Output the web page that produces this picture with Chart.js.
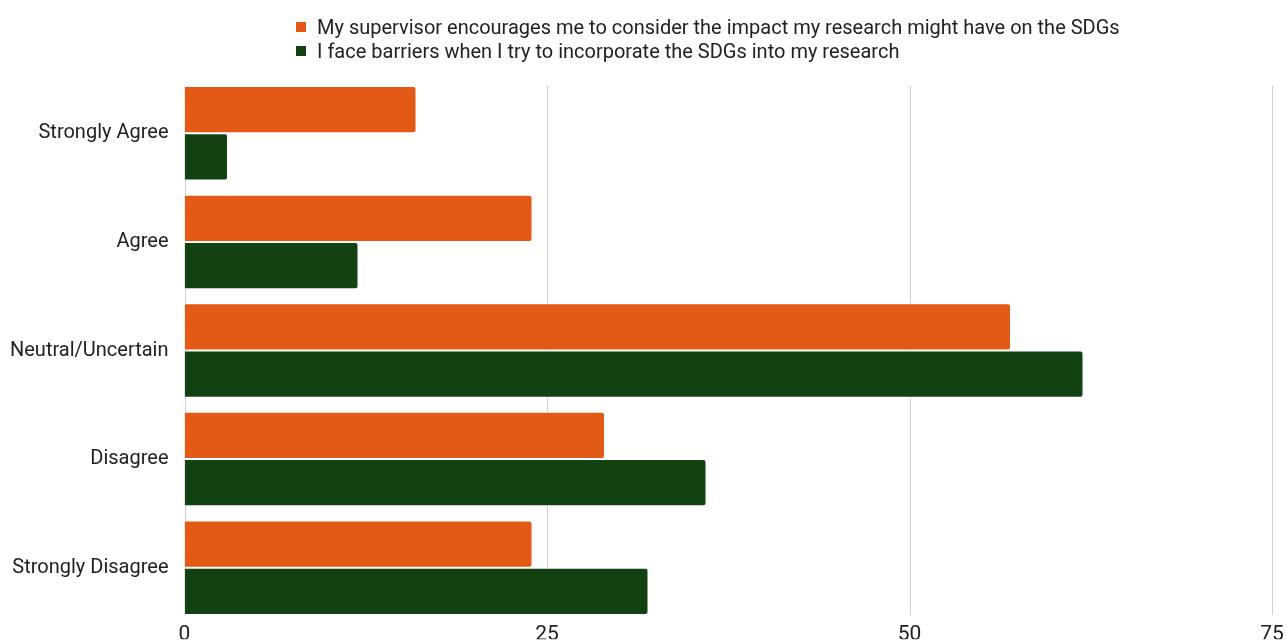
<!DOCTYPE html>
<html><head><meta charset="utf-8">
<script src="https://cdn.jsdelivr.net/npm/chart.js@4/dist/chart.umd.min.js"></script>
<style>
html,body{margin:0;padding:0;background:#fff;overflow:hidden;}
#wrap{position:relative;width:1287px;height:641px;overflow:hidden;}
#legend{position:absolute;left:296px;top:15px;font-family:Roboto,sans-serif;font-size:20px;color:#222;line-height:24px;}
#legend div{display:flex;align-items:center;white-space:nowrap;}
#legend span.b{display:inline-block;width:10px;height:10px;margin-right:11px;}
canvas{position:absolute;left:2px;top:0;}
</style></head>
<body><div id="wrap"><canvas id="c" width="1285" height="642"></canvas><div id="legend"></div></div>
<script>
const categories = ["Strongly Agree","Agree","Neutral/Uncertain","Disagree","Strongly Disagree"];
const seriesNames = ["My supervisor encourages me to consider the impact my research might have on the SDGs","I face barriers when I try to incorporate the SDGs into my research"];
const supervisorValues = [16,24,57,29,24];
const barrierValues = [3,12,62,36,32];
const xTicks = [0,25,50,75];
const colors = ["#E35A17","#124112"];
const catPct = 0.87;

const lg = document.getElementById('legend');
seriesNames.forEach((n,i)=>{
  const d=document.createElement('div');
  d.innerHTML='<span class="b" style="background:'+colors[i]+'"></span><span></span>';
  d.lastChild.textContent=n;
  lg.appendChild(d);
});

// vertical grid lines spanning only the outer edges of the bar groups
const gridPlugin = {
  id:'innerGrid',
  beforeDatasetsDraw(chart){
    const {ctx, chartArea, scales:{x}} = chart;
    const band = (chartArea.bottom - chartArea.top)/categories.length;
    const inset = band*(1-catPct)/2;
    ctx.save();
    ctx.strokeStyle='#d0d0d0'; ctx.lineWidth=1;
    xTicks.forEach(v=>{
      const px = Math.round(x.getPixelForValue(v))+0.5;
      ctx.beginPath(); ctx.moveTo(px, chartArea.top+inset); ctx.lineTo(px, chartArea.bottom-inset); ctx.stroke();
    });
    ctx.restore();
  }
};

new Chart(document.getElementById('c'),{
  type:'bar',
  data:{labels:categories,datasets:[
    {label:seriesNames[0],data:supervisorValues,backgroundColor:colors[0],borderColor:'#fff',borderWidth:1,borderRadius:3,borderSkipped:'start'},
    {label:seriesNames[1],data:barrierValues,backgroundColor:colors[1],borderColor:'#fff',borderWidth:1,borderRadius:3,borderSkipped:'start'}
  ]},
  plugins:[gridPlugin],
  options:{
    indexAxis:'y',responsive:false,animation:false,
    layout:{padding:{top:79,right:15,left:0,bottom:0}},
    datasets:{bar:{barPercentage:1,categoryPercentage:catPct}},
    plugins:{legend:{display:false},tooltip:{enabled:false}},
    scales:{
      x:{min:0,max:75,afterBuildTicks:ax=>{ax.ticks=xTicks.map(v=>({value:v}));},
         grid:{display:false},border:{display:false},
         ticks:{color:'#222',font:{family:'Roboto',size:21},padding:-8}},
      y:{grid:{display:false},border:{display:false},
         ticks:{color:'#222',font:{family:'Roboto',size:20},padding:8}}
    }
  }
});
</script></body></html>
